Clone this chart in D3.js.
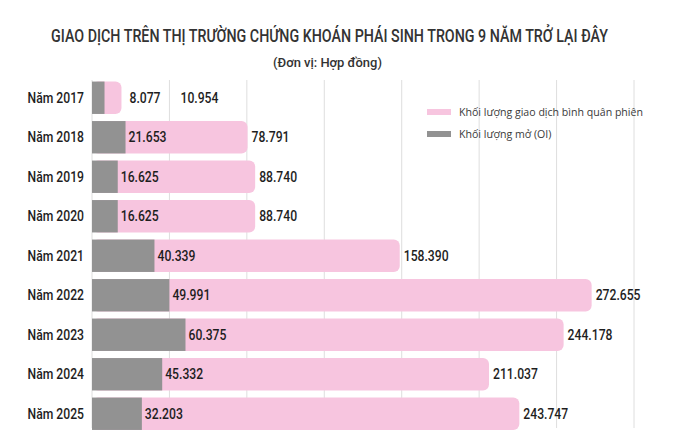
<!DOCTYPE html>
<html>
<head>
<meta charset="utf-8">
<script src="https://cdn.jsdelivr.net/npm/d3@7"></script>
<style>
	body { margin: 0; background: #fff; }
	svg { display: block; }
</style>
</head>
<body>
<svg id="chart" width="700" height="447"></svg>
<script>
// Số liệu
const years = ["Năm 2017", "Năm 2018", "Năm 2019", "Năm 2020", "Năm 2021", "Năm 2022", "Năm 2023", "Năm 2024", "Năm 2025"];
const openInterest = [8077, 21653, 16625, 16625, 40339, 49991, 60375, 45332, 32203];
const tradingVolume = [10954, 78791, 88740, 88740, 158390, 272655, 244178, 211037, 243747];
const gridTicks = [0, 50000, 100000, 150000, 200000, 250000, 300000, 350000];
const legendItems = ["Khối lượng giao dịch bình quân phiên", "Khối lượng mở (OI)"];

const PINK = "#f7c5df";
const GREY = "#929292";
const condFont = "Roboto, 'Noto Sans', sans-serif";
const SQUEEZE = 0.84;

const svg = d3.select("#chart");
const vn = d3.formatLocale({ decimal: ",", thousands: ".", grouping: [3], currency: ["", ""] });
const fmt = vn.format(",");

const rows = years.map((y, i) => ({ year: y, oi: openInterest[i], vol: tradingVolume[i] }));

const xScale = d3.scaleLinear()
				 .domain([0, 350000])
				 .range([92, 634]);

const yScale = d3.scaleBand()
				 .domain(years)
				 .range([78, 433.5])
				 .paddingInner(0.18)
				 .paddingOuter(0.09);

// chữ hẹp: không có font condensed nên ép ngang
function condText(parent, x, y, anchor, txt) {
	return parent.append("text")
				 .attr("transform", `translate(${x},${y}) scale(${SQUEEZE},1)`)
				 .attr("dy", "0.36em")
				 .attr("text-anchor", anchor)
				 .text(txt);
}

// ép chữ vào đúng bề rộng, canh giữa tại cx
function fitText(cx, y, width, size, txt) {
	const t = svg.append("text")
				 .attr("text-anchor", "middle")
				 .style("font-family", condFont)
				 .style("font-size", size)
				 .style("font-weight", "500")
				 .style("fill", "#333")
				 .text(txt);
	const k = width / t.node().getComputedTextLength();
	t.attr("transform", `translate(${cx},${y}) scale(${k},1)`);
	return t;
}

// tiêu đề
fitText(329.5, 42, 557, "19px", "GIAO DỊCH TRÊN THỊ TRƯỜNG CHỨNG KHOÁN PHÁI SINH TRONG 9 NĂM TRỞ LẠI ĐÂY");
fitText(327.5, 67, 109, "13.5px", "(Đơn vị: Hợp đồng)");

// lưới dọc
svg.append("g")
   .selectAll("line")
   .data(gridTicks)
   .enter()
   .append("line")
   .attr("x1", d => xScale(d))
   .attr("x2", d => xScale(d))
   .attr("y1", 80)
   .attr("y2", 428)
   .attr("stroke", "#dedede")
   .attr("stroke-width", 1);

// chú thích
const legend = svg.append("g")
				  .attr("transform", "translate(427,112)");

legendItems.forEach((name, i) => {
	legend.append("rect")
		  .attr("x", 0)
		  .attr("y", i * 22 - 3)
		  .attr("width", 24)
		  .attr("height", 6)
		  .attr("fill", i === 0 ? PINK : GREY);

	legend.append("text")
		  .attr("x", 32)
		  .attr("y", i * 22)
		  .attr("dy", "0.35em")
		  .style("font-family", "'Open Sans', sans-serif")
		  .style("font-size", "10.6px")
		  .style("fill", "#3a3a3a")
		  .text(name);
});

// thanh
const bars = svg.append("g");

bars.selectAll(".vol")
	.data(rows)
	.enter()
	.append("rect")
	.attr("class", "vol")
	.attr("x", xScale(0))
	.attr("y", d => yScale(d.year))
	.attr("width", d => xScale(d.oi + d.vol) - xScale(0))
	.attr("height", yScale.bandwidth())
	.attr("rx", 6)
	.attr("fill", PINK);

bars.selectAll(".oi")
	.data(rows)
	.enter()
	.append("rect")
	.attr("class", "oi")
	.attr("x", xScale(0))
	.attr("y", d => yScale(d.year))
	.attr("width", d => xScale(d.oi) - xScale(0))
	.attr("height", yScale.bandwidth())
	.attr("fill", GREY);

// nhãn năm + nhãn số
const labels = svg.append("g")
				  .style("font-family", condFont)
				  .style("font-size", "14.5px")
				  .style("font-weight", "500")
				  .style("fill", "#1e1e1e");

rows.forEach(d => {
	const cy = yScale(d.year) + yScale.bandwidth() / 2;
	const greyEnd = xScale(d.oi);
	const pinkEnd = xScale(d.oi + d.vol);
	const narrow = pinkEnd - greyEnd < 50;

	condText(labels, 84, cy, "end", d.year);
	condText(labels, narrow ? pinkEnd + 8 : greyEnd + 3, cy, "start", fmt(d.oi));
	condText(labels, narrow ? pinkEnd + 59 : pinkEnd + 4, cy, "start", fmt(d.vol));
});
</script>
</body>
</html>
